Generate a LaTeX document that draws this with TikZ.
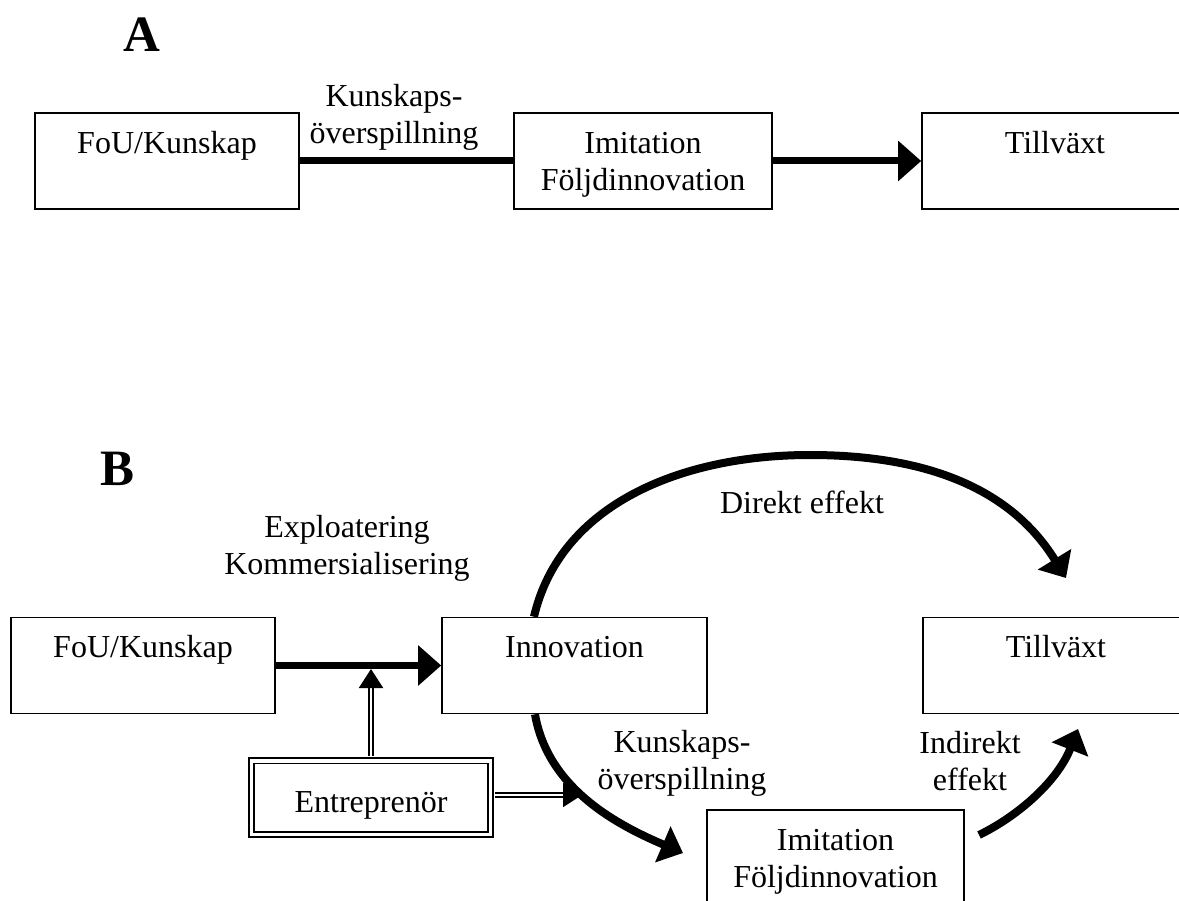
\documentclass[tikz,border=0pt]{standalone}
\usepackage{fontspec}
\setmainfont{Liberation Serif}
\usetikzlibrary{arrows.meta}
\newcommand\twoln[2]{\begin{tabular}[t]{@{}c@{}}#1\\#2\end{tabular}}
\begin{document}
\begin{tikzpicture}[x=1pt,y=-1pt,
  every node/.style={font=\fontsize{32}{37}\selectfont},
  box/.style={draw, line width=1.6pt, rectangle, inner sep=0pt, minimum height=96pt},
  intext/.style={anchor=base, yshift=-41pt, inner sep=0pt},
  txt/.style={anchor=base, inner sep=0pt},
  big/.style={anchor=base, inner sep=0pt, font=\fontsize{51}{60}\selectfont\bfseries},
  dbox/.style={draw, double, double distance=3.5pt, line width=1.8pt, rectangle, inner sep=0pt},
  thickln/.style={line width=7pt},
  bigtip/.style={-{Triangle[length=23pt,width=39pt]}},
  curve/.style={line width=8pt, -{Triangle[length=22pt,width=38pt]}},
  dbl/.style={double, double distance=2.5pt, line width=2pt, -{Triangle[length=19pt,width=24pt]}}
]
\useasboundingbox (0,0) rectangle (1179,901);
\clip (0,0) rectangle (1179,901);
\fill[white] (0,0) rectangle (1179,901);

% ---------- A ----------
\node[big] (labA) at (142,52) {A};
\node[box, minimum width=264pt, label={[intext]north:FoU/Kunskap}] (fouA) at (167,161) {};
\node[box, minimum width=258pt, label={[intext]north:\twoln{Imitation}{Följdinnovation}}] (imiA) at (643,161) {};
\node[box, minimum width=266pt, label={[intext]north:Tillväxt}] (tilA) at (1055,161) {};
\node[txt] (kA) at (394,107) {\twoln{Kunskaps-}{överspillning}};
\draw[thickln] (fouA.east) -- (imiA.west);
\draw[thickln, bigtip] (imiA.east) -- (tilA.west);

% ---------- B ----------
\node[big] (labB) at (118,485) {B};
\node[txt] (expl) at (347,537) {\twoln{Exploatering}{Kommersialisering}};
\node[box, minimum width=264pt, label={[intext]north:FoU/Kunskap}] (fouB) at (143,665.5) {};
\node[box, minimum width=265pt, label={[intext]north:Innovation}] (innov) at (574.5,665.5) {};
\node[box, minimum width=266pt, label={[intext]north:Tillväxt}] (tilB) at (1056,665.5) {};
\node[box, minimum width=257pt, label={[intext]north:\twoln{Imitation}{Följdinnovation}}] (imiB) at (835.5,858) {};
\node[dbox, minimum width=239pt, minimum height=73.5pt,
      label={[anchor=base, yshift=-7.5pt, inner sep=0pt]center:Entreprenör}] (ent) at (371,797.5) {};
\node[txt] (direkt) at (802,513) {Direkt effekt};
\node[txt] (kB) at (682,752) {\twoln{Kunskaps-}{överspillning}};
\node[txt] (indir) at (970,753) {\twoln{Indirekt}{effekt}};

\coordinate (m) at (371,669);
\coordinate (h) at (582,795);
\coordinate (dTip) at (1066,578);
\coordinate (kTip) at (683,853);
\coordinate (iStart) at (979,835);
\coordinate (iTip) at (1078,729);

\draw[thickln, bigtip] (fouB.east) -- (innov.west);
\draw[dbl] ([yshift=3.6pt]ent.north) -- (m);
\draw[dbl] ([xshift=3.6pt,yshift=2.5pt]ent.east) -- (h);
\draw[curve] ([xshift=-40.5pt]innov.north) .. controls (560,505) and (680,455) .. (810,455)
   .. controls (945,455) and (1018,500) .. (dTip);
\draw[curve] ([xshift=-39.5pt]innov.south) .. controls (548,790) and (620,826) .. (kTip);
\draw[curve] (iStart) .. controls (1020,815) and (1058,780) .. (iTip);
\end{tikzpicture}
\end{document}
